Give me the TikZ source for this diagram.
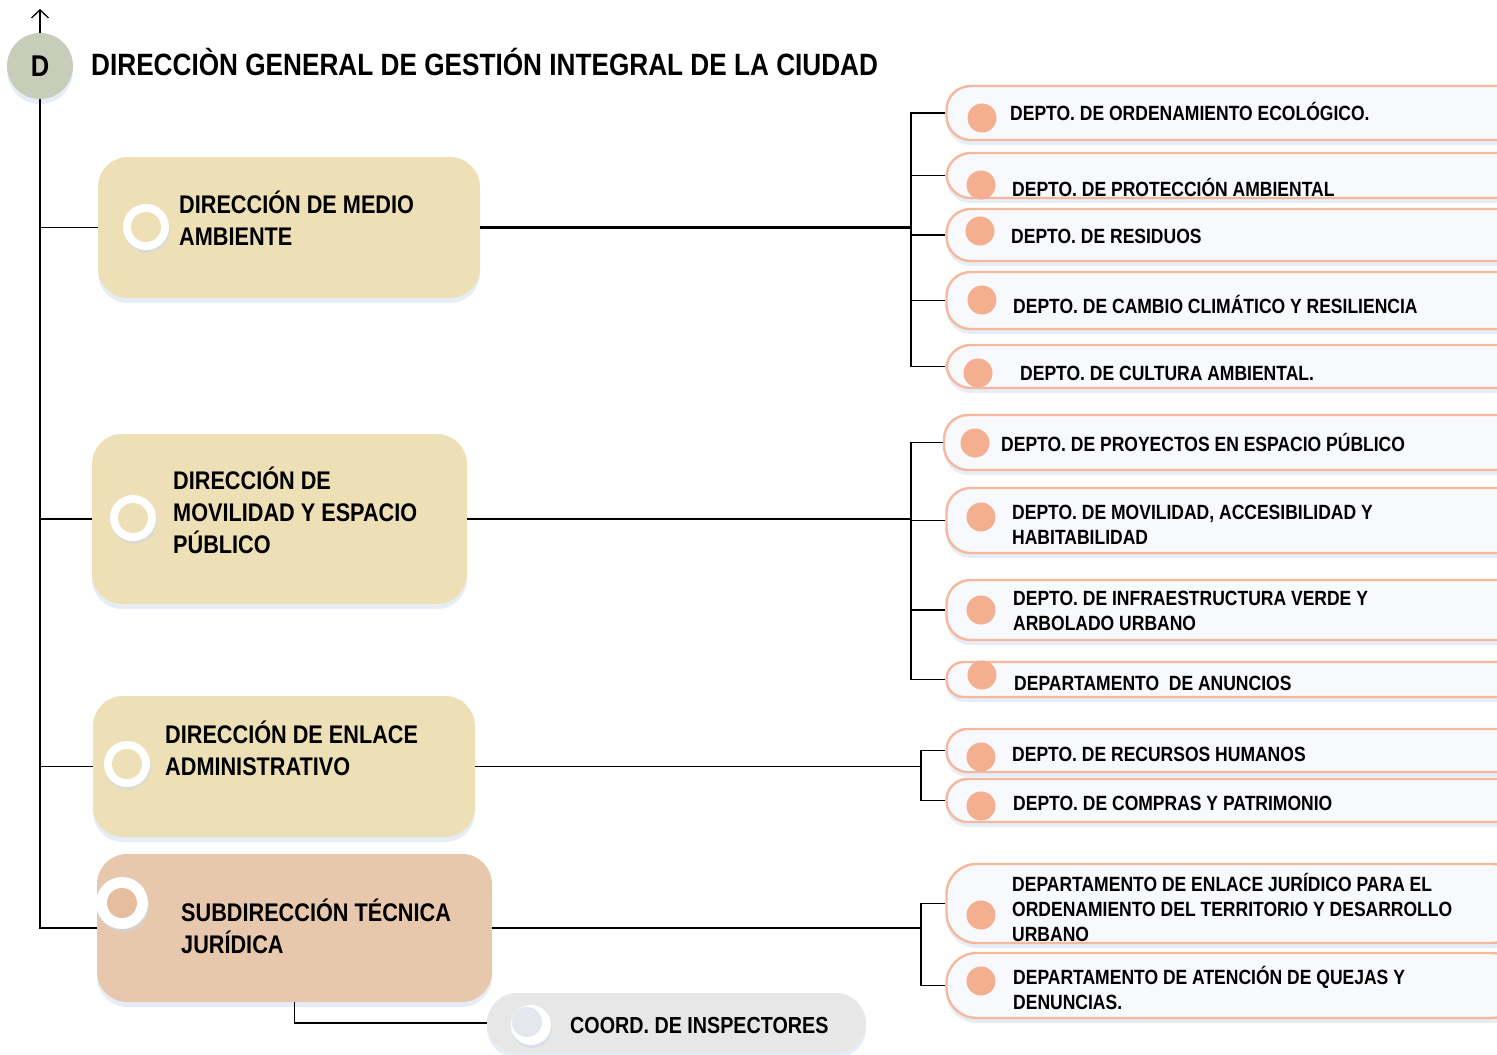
\documentclass[tikz,border=0pt]{standalone}
\usepackage{fontspec}
\setmainfont[FakeStretch=0.85]{Liberation Sans}
\usetikzlibrary{shadows,arrows.meta}
\definecolor{dgreen}{HTML}{C8CDB9}
\definecolor{tanfill}{HTML}{EEE0B6}
\definecolor{subfill}{HTML}{E7C8AC}
\definecolor{subring}{HTML}{E5BE9F}
\definecolor{coordfill}{HTML}{E7E7E8}
\definecolor{coordring}{HTML}{E4E7EE}
\definecolor{salmon}{HTML}{F4AE90}
\definecolor{salmonline}{HTML}{F5B89C}
\definecolor{pillfill}{HTML}{F8F9FC}
\definecolor{shadowc}{HTML}{C9D8EE}
\tikzset{
  shad/.style={drop shadow={shadow xshift=0pt,shadow yshift=-5pt,opacity=0.45,fill=shadowc}},
  dirbox/.style={rectangle,rounded corners=30pt,fill=tanfill,inner sep=0pt,shad},
  pill/.style={rectangle,rounded corners=24pt,fill=pillfill,draw=salmonline,line width=2.4pt,inner sep=0pt,minimum width=575pt,shad},
  dot/.style={circle,fill=salmon,minimum size=29pt,inner sep=0pt},
  ringout/.style={circle,fill=white,minimum size=46pt,inner sep=0pt,drop shadow={shadow xshift=1pt,shadow yshift=-3pt,opacity=0.5,fill=shadowc}},
  ringin/.style={circle,minimum size=30pt,inner sep=0pt},
  dirtxt/.style={anchor=base west,inner sep=0pt,align=left,font=\bfseries\fontsize{25.5}{32}\selectfont},
  deptxt/.style={anchor=base west,inner sep=0pt,align=left,font=\bfseries\fontsize{20.6}{25}\selectfont},
  conn/.style={line width=1.6pt,black},
}
\begin{document}
\begin{tikzpicture}[x=1pt,y=-1pt]
\useasboundingbox (0,0) rectangle (1497,1055);
\clip (0,0) rectangle (1497,1055);
% top circle and title
\node[circle,fill=dgreen,minimum size=66pt,inner sep=0pt,shad] (D) at (40,66) {\bfseries\fontsize{30}{34}\selectfont D};
\node[anchor=base west,inner sep=0pt,font=\bfseries\fontsize{30.8}{36}\selectfont] (title) at (91,75) {DIRECCIÒN GENERAL DE GESTIÓN INTEGRAL DE LA CIUDAD};
\coordinate (top) at (40,9);
\draw[line width=1.3pt,-{Straight Barb[length=8pt,width=17pt,line width=1.3pt]}] (D.north) -- (top);

% left boxes
\node[dirbox,minimum width=382pt,minimum height=141pt] (b1) at (289,227.5) {};
\node[dirbox,minimum width=375pt,minimum height=170pt] (b2) at (279.5,519) {};
\node[dirbox,minimum width=382pt,minimum height=141pt] (b3) at (284,766.5) {};
\node[dirbox,fill=subfill,minimum width=395pt,minimum height=148pt] (b4) at (294.5,928) {};
\node[dirbox,fill=coordfill,minimum width=379pt,minimum height=60pt] (b5) at (676.5,1023) {};

\node[ringout] (r1o) at (146,227) {};
\node[ringin,fill=tanfill] (r1i) at (146,227) {};
\node[ringout] (r2o) at (133,518) {};
\node[ringin,fill=tanfill] (r2i) at (133,518) {};
\node[ringout] (r3o) at (127,764) {};
\node[ringin,fill=tanfill] (r3i) at (127,764) {};
\node[ringout,minimum size=52pt] (r4o) at (122,903) {};
\node[ringin,fill=subring] (r4i) at (122,903) {};
\node[ringout,minimum size=40pt] (r5o) at (531,1025) {};
\node[ringin,fill=coordring,minimum size=30pt] (r5i) at (527,1022) {};

\node[dirtxt] (t1) at (179,245) {DIRECCIÓN DE MEDIO\\AMBIENTE};
\node[dirtxt] (t2) at (173,553) {DIRECCIÓN DE\\MOVILIDAD Y ESPACIO\\PÚBLICO};
\node[dirtxt] (t3) at (165,775) {DIRECCIÓN DE ENLACE\\ADMINISTRATIVO};
\node[dirtxt] (t4) at (181,953) {SUBDIRECCIÓN TÉCNICA\\JURÍDICA};
\node[dirtxt,font=\bfseries\fontsize{23.2}{26}\selectfont] (t5) at (570,1033) {COORD. DE INSPECTORES};

% right pills
\node[pill,minimum height=54pt] (p1) at (1234,113) {};
\node[pill,minimum height=45pt] (p2) at (1234,175.5) {};
\node[pill,minimum height=52pt] (p3) at (1234,235) {};
\node[pill,minimum height=57pt] (p4) at (1234,300.5) {};
\node[pill,minimum height=43pt] (p5) at (1234,366.5) {};
\node[pill,minimum height=55pt,minimum width=580pt] (p6) at (1234,442.5) {};
\node[pill,minimum height=65pt] (p7) at (1234,520.5) {};
\node[pill,minimum height=60pt] (p8) at (1234,610) {};
\node[pill,minimum height=35pt,rounded corners=17pt] (p9) at (1234,679.5) {};
\node[pill,minimum height=43pt,rounded corners=21pt] (p10) at (1234,750.5) {};
\node[pill,minimum height=43pt,rounded corners=21pt] (p11) at (1234,800.5) {};
\node[pill,minimum height=79pt,rounded corners=30pt] (p12) at (1234,903.5) {};
\node[pill,minimum height=65pt,rounded corners=30pt] (p13) at (1234,985.5) {};

\node[dot] (d1) at (982,118) {};
\node[dot] (d2) at (981,185) {};
\node[dot] (d3) at (980,231) {};
\node[dot] (d4) at (982,300) {};
\node[dot] (d5) at (978,373) {};
\node[dot] (d6) at (975,443) {};
\node[dot] (d7) at (981,517) {};
\node[dot] (d8) at (981,610) {};
\node[dot] (d9) at (982,675) {};
\node[dot] (d10) at (981,757) {};
\node[dot] (d11) at (981,806) {};
\node[dot] (d12) at (981,915) {};
\node[dot] (d13) at (981,981) {};

\node[deptxt] (q1) at (1010,120) {DEPTO. DE ORDENAMIENTO ECOLÓGICO.};
\node[deptxt] (q2) at (1012,196) {DEPTO. DE PROTECCIÓN AMBIENTAL};
\node[deptxt] (q3) at (1011,243) {DEPTO. DE RESIDUOS};
\node[deptxt] (q4) at (1013,313) {DEPTO. DE CAMBIO CLIMÁTICO Y RESILIENCIA};
\node[deptxt] (q5) at (1020,380) {DEPTO. DE CULTURA AMBIENTAL.};
\node[deptxt] (q6) at (1001,451) {DEPTO. DE PROYECTOS EN ESPACIO PÚBLICO};
\node[deptxt] (q7) at (1012,544) {DEPTO. DE MOVILIDAD, ACCESIBILIDAD Y\\HABITABILIDAD};
\node[deptxt] (q8) at (1013,630) {DEPTO. DE INFRAESTRUCTURA VERDE Y\\ARBOLADO URBANO};
\node[deptxt] (q9) at (1014,690) {DEPARTAMENTO\ \ DE ANUNCIOS};
\node[deptxt] (q10) at (1012,761) {DEPTO. DE RECURSOS HUMANOS};
\node[deptxt] (q11) at (1013,810) {DEPTO. DE COMPRAS Y PATRIMONIO};
\node[deptxt] (q12) at (1012,941) {DEPARTAMENTO DE ENLACE JURÍDICO PARA EL\\ORDENAMIENTO DEL TERRITORIO Y DESARROLLO\\URBANO};
\node[deptxt] (q13) at (1013,1009) {DEPARTAMENTO DE ATENCIÓN DE QUEJAS Y\\DENUNCIAS.};

% connectors
\coordinate (j1) at (911,227.5);
\coordinate (j2) at (911,519);
\coordinate (j3) at (921,766.5);
\coordinate (j4) at (921,928);
\draw[conn] (D.south) |- (b4.west);
\draw[conn] (b1.west) -- (b1.west -| D.south);
\draw[conn] (b2.west) -- (b2.west -| D.south);
\draw[conn] (b3.west) -- (b3.west -| D.south);
\draw[conn] (b4.south) |- (b5.west);
\draw[conn,line width=2.2pt] (b1.east) -- (j1);
\draw[conn,line width=2.2pt] (b2.east) -- (j2);
\draw[conn] (b3.east) -- (j3);
\draw[conn] (b4.east) -- (j4);
\foreach \p in {p1,p2,p3,p4,p5} \draw[conn] (\p.west) -| (j1);
\foreach \p in {p6,p7,p8,p9} \draw[conn] (\p.west) -| (j2);
\foreach \p in {p10,p11} \draw[conn] (\p.west) -| (j3);
\foreach \p in {p12,p13} \draw[conn] (\p.west) -| (j4);
\end{tikzpicture}
\end{document}
